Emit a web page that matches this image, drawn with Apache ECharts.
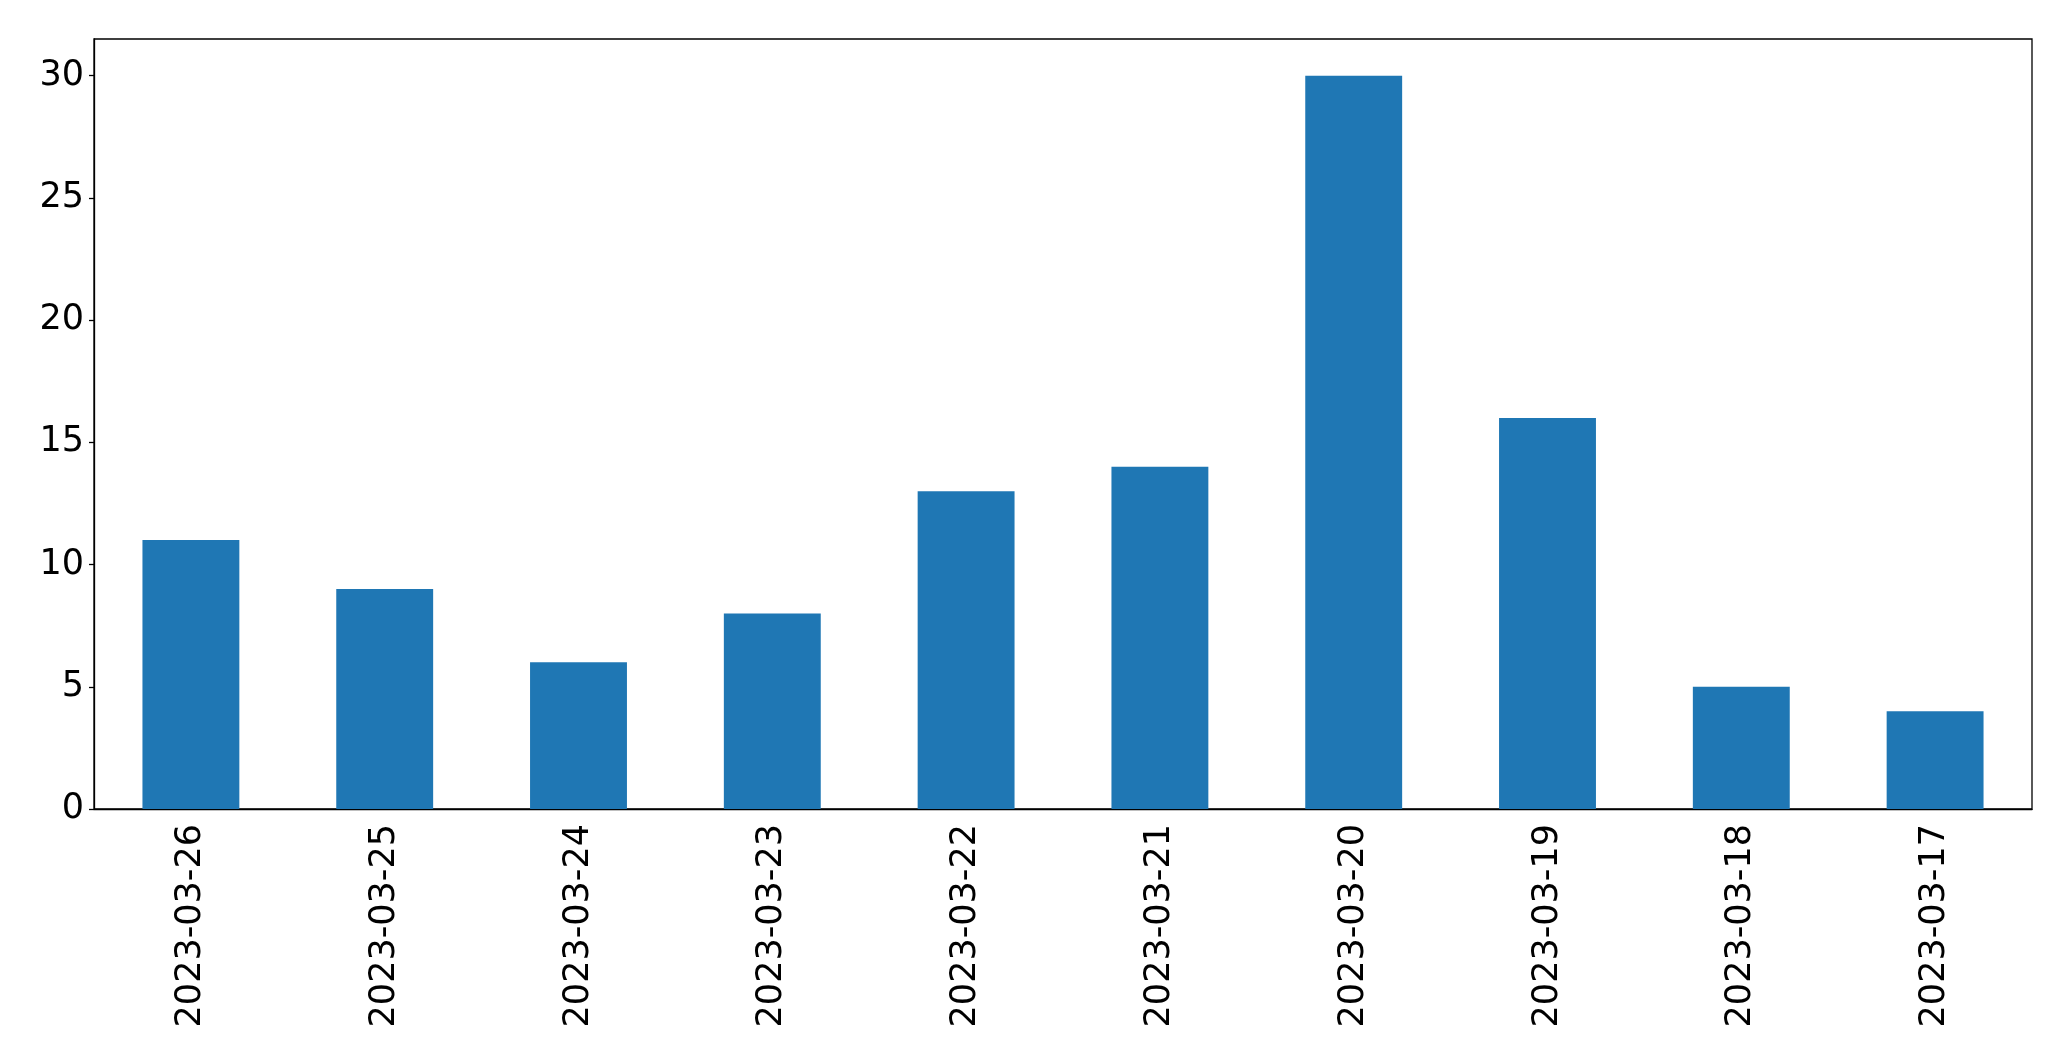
<!DOCTYPE html>
<html>
<head>
<meta charset="utf-8">
<script src="https://cdn.jsdelivr.net/npm/echarts@6/dist/echarts.min.js"></script>
<style>
  html, body { margin: 0; padding: 0; background: #fff; }
  #chart { width: 2071px; height: 1061px; }
</style>
</head>
<body>
<div id="chart"></div>
<script>
const categories = ['2023-03-26', '2023-03-25', '2023-03-24', '2023-03-23', '2023-03-22',
  '2023-03-21', '2023-03-20', '2023-03-19', '2023-03-18', '2023-03-17']
const counts = [11, 9, 6, 8, 13, 14, 30, 16, 5, 4]
const yTicks = [0, 5, 10, 15, 20, 25, 30]

const chart = echarts.init(document.getElementById('chart'))
const font = 'DejaVu Sans'

chart.setOption({
  backgroundColor: '#ffffff',
  animation: false,
  grid: {
    left: 94,
    right: 39,
    top: 39,
    bottom: 252,
    show: true,
    borderColor: '#000',
    borderWidth: 1.3,
    containLabel: false
  },
  xAxis: {
    type: 'category',
    data: categories,
    axisLine: { lineStyle: { color: '#000', width: 1.3 } },
    axisTick: { alignWithLabel: true, length: 7, lineStyle: { color: '#000', width: 1.3 } },
    axisLabel: {
      rotate: 90,
      interval: 0,
      margin: 15,
      color: '#000',
      fontFamily: font,
      fontSize: 35
    }
  },
  yAxis: {
    type: 'value',
    min: 0,
    max: 31.5,
    interval: 5,
    splitLine: { show: false },
    axisLine: { show: true, lineStyle: { color: '#000', width: 1.3 } },
    axisTick: { show: true, length: 5, customValues: yTicks, lineStyle: { color: '#000', width: 1.3 } },
    axisLabel: {
      customValues: yTicks,
      margin: 10,
      color: '#000',
      fontFamily: font,
      fontSize: 35
    }
  },
  series: [
    {
      type: 'bar',
      data: counts,
      barWidth: '50%',
      itemStyle: { color: '#1f77b4' }
    }
  ]
})
</script>
</body>
</html>
